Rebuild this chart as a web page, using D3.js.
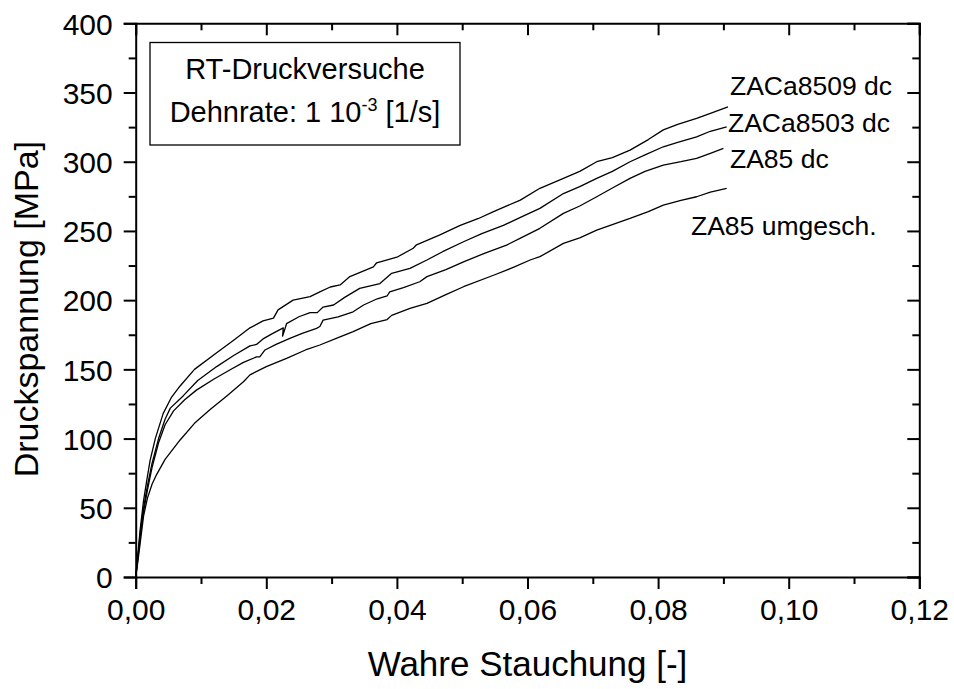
<!DOCTYPE html>
<html>
<head>
<meta charset="utf-8">
<script src="https://cdn.jsdelivr.net/npm/d3@7"></script>
<style>
  html, body { margin: 0; padding: 0; background: #fff; }
  svg { display: block; }
  text { font-family: "Liberation Sans", Arial, sans-serif; fill: #000; }
</style>
</head>
<body>
<svg id="chart" width="954" height="689"></svg>
<script>
// ---- data (strain [-], stress [MPa]) ----
const seriesNames = ["ZACa8509 dc", "ZACa8503 dc", "ZA85 dc", "ZA85 umgesch."];

const zaca8509 = [[0,0],[0.0003,15],[0.0007,35],[0.0012,55],[0.0017,70],[0.0022,84],[0.003,100],[0.0042,118],[0.0055,130],[0.0068,138],[0.009,150],[0.0124,162],[0.015,171],[0.0175,180],[0.0195,185],[0.0211,187],[0.0218,193],[0.0241,200],[0.0267,202.5],[0.0282,206],[0.0298,209.5],[0.0313,211],[0.0328,217],[0.0364,224],[0.0369,227],[0.04,231],[0.0425,237.5],[0.043,240],[0.0465,247],[0.0497,254],[0.0525,259],[0.0548,264],[0.0589,272.3],[0.0619,280.8],[0.0655,288],[0.068,293],[0.0706,300],[0.073,303],[0.0757,308.4],[0.0785,316],[0.0808,323],[0.083,327],[0.0859,331.3],[0.088,335],[0.0907,339.7]];

const zaca8503 = [[0,0],[0.0003,13],[0.0007,32],[0.0012,50],[0.0018,66],[0.0025,82],[0.0035,100],[0.0045,114],[0.0053,122],[0.0073,131],[0.0095,142],[0.0124,152],[0.015,160],[0.0175,167],[0.0185,168],[0.0195,172],[0.021,176],[0.0226,180],[0.0225,174],[0.0231,183],[0.025,188],[0.0267,191],[0.0278,191],[0.0287,195],[0.0303,196.5],[0.032,202],[0.0343,208.5],[0.0374,212],[0.0392,219.4],[0.042,223],[0.0446,229],[0.047,235],[0.0502,242.2],[0.053,248],[0.0563,254],[0.059,260],[0.0619,266.3],[0.0655,277],[0.068,282],[0.0706,288],[0.073,293],[0.0757,300],[0.078,305],[0.0808,310.8],[0.083,314],[0.0859,318],[0.088,322],[0.0905,325.2]];

const za85dc = [[0,0],[0.0003,12],[0.0007,30],[0.0012,47],[0.0018,63],[0.0025,79],[0.0035,97],[0.0045,110],[0.0058,120],[0.0075,128],[0.0093,135],[0.012,143],[0.0144,149.5],[0.0165,155],[0.0185,159],[0.019,159],[0.0198,164],[0.0215,168],[0.0236,172.4],[0.0255,176],[0.0277,179.6],[0.0282,181],[0.0287,185.6],[0.031,188],[0.0333,191.6],[0.0349,196.5],[0.037,201],[0.0385,203],[0.0389,206],[0.041,209],[0.0435,213.3],[0.0446,217],[0.0475,222],[0.0502,227.7],[0.0535,234],[0.0568,239.8],[0.059,245],[0.0619,251.9],[0.0655,262.7],[0.068,268],[0.0706,274.7],[0.073,281],[0.0757,288],[0.078,293],[0.0808,297.6],[0.0835,300],[0.0859,302.4],[0.088,306],[0.09,309.6]];

const za85umg = [[0,0],[0.0003,10],[0.0007,25],[0.0012,44],[0.0018,57],[0.0025,67],[0.0032,74],[0.0045,85],[0.0068,99],[0.009,111],[0.0114,121],[0.014,131],[0.0165,141],[0.0175,146],[0.02,152],[0.0231,158],[0.026,164],[0.0282,167.6],[0.031,173],[0.0333,177.2],[0.036,183],[0.0385,186],[0.0392,189],[0.042,194],[0.0446,197.7],[0.0475,204],[0.0502,209.7],[0.0548,218],[0.058,224],[0.0604,229],[0.0619,231.4],[0.0655,241],[0.068,245],[0.0706,250.6],[0.0757,259],[0.0785,264],[0.0808,268.7],[0.0835,272],[0.0859,274.7],[0.088,278],[0.0905,280.8]];

const xTicks = [0, 0.02, 0.04, 0.06, 0.08, 0.10, 0.12];
const xTickLabels = ["0,00","0,02","0,04","0,06","0,08","0,10","0,12"];
const yTicks = [0, 50, 100, 150, 200, 250, 300, 350, 400];

const xTitle = "Wahre Stauchung [-]";
const yTitle = "Druckspannung [MPa]";
const boxLine1 = "RT-Druckversuche";

// ---- layout ----
const svg = d3.select("#chart");
const L = 135.7, R = 919.3, T = 23.3, B = 577;
const x = d3.scaleLinear().domain([0, 0.12]).range([L, R]);
const y = d3.scaleLinear().domain([0, 400]).range([B, T]);

const xMinor = d3.range(0.01, 0.12, 0.02);
const yMinor = d3.range(25, 400, 50);

const g = svg.append("g");

// curves
const line = d3.line().x(d => x(d[0])).y(d => y(d[1]));
const allSeries = [zaca8509, zaca8503, za85dc, za85umg];
g.selectAll("path.curve").data(allSeries).enter().append("path")
  .attr("class", "curve")
  .attr("d", line)
  .attr("fill", "none")
  .attr("stroke", "#000")
  .attr("stroke-width", 1.3)
  .attr("stroke-linejoin", "round");

// axes
const fs = 30;
const bottomAxis = d3.axisBottom(x).tickValues(xTicks).tickFormat((d,i) => xTickLabels[i]).tickSizeOuter(0).tickSize(12).tickPadding(10);
const leftAxis = d3.axisLeft(y).tickValues(yTicks).tickSizeOuter(0).tickSize(12).tickPadding(11);
const topAxis = d3.axisBottom(x).tickValues(xTicks).tickFormat("").tickSizeOuter(0).tickSize(12);
const rightAxis = d3.axisLeft(y).tickValues(yTicks).tickFormat("").tickSizeOuter(0).tickSize(12);

function styleAxis(sel) {
  sel.selectAll("path.domain").attr("stroke", "#000").attr("stroke-width", 2);
  sel.selectAll(".tick line").attr("stroke", "#000").attr("stroke-width", 2);
  sel.selectAll(".tick text").style("font-family", '"Liberation Sans", Arial, sans-serif').style("font-size", fs + "px").attr("fill", "#000");
}

g.append("g").attr("transform", `translate(0,${B})`).call(bottomAxis).call(styleAxis);
const gl = g.append("g").attr("transform", `translate(${L},0)`).call(leftAxis).call(styleAxis);
g.append("g").attr("transform", `translate(0,${T})`).call(topAxis).call(styleAxis);
g.append("g").attr("transform", `translate(${R},0)`).call(rightAxis).call(styleAxis);
gl.selectAll(".tick text").attr("dy", "0.36em");

// minor ticks
const minorX = d3.axisBottom(x).tickValues(xMinor).tickFormat("").tickSizeOuter(0).tickSize(7);
const minorY = d3.axisLeft(y).tickValues(yMinor).tickFormat("").tickSizeOuter(0).tickSize(7);
const minorXt = d3.axisBottom(x).tickValues(xMinor).tickFormat("").tickSizeOuter(0).tickSize(7);
const minorYr = d3.axisLeft(y).tickValues(yMinor).tickFormat("").tickSizeOuter(0).tickSize(7);
[[minorX, `translate(0,${B})`], [minorY, `translate(${L},0)`], [minorXt, `translate(0,${T})`], [minorYr, `translate(${R},0)`]].forEach(([ax, tr]) => {
  const s = g.append("g").attr("transform", tr).call(ax).call(styleAxis);
  s.select("path.domain").remove();
});

// axis titles
svg.append("text").attr("x", (L + R) / 2).attr("y", 676).attr("text-anchor", "middle")
  .style("font-size", "35px").text(xTitle);
svg.append("text").attr("transform", `translate(38,${(T + B) / 2 + 9}) rotate(-90)`).attr("text-anchor", "middle")
  .style("font-size", "34px").text(yTitle);

// info box
svg.append("rect").attr("x", 150).attr("y", 42.5).attr("width", 310).attr("height", 102.5)
  .attr("fill", "#fff").attr("stroke", "#000").attr("stroke-width", 1.3);
svg.append("text").attr("x", 305).attr("y", 79).attr("text-anchor", "middle").style("font-size", "29px").text(boxLine1);
const t2 = svg.append("text").attr("x", 305).attr("y", 122).attr("text-anchor", "middle").style("font-size", "29px");
t2.append("tspan").text("Dehnrate: 1 10");
t2.append("tspan").attr("dy", -11).style("font-size", "18px").text("-3");
t2.append("tspan").attr("dy", 11).text(" [1/s]");

// curve labels
const labelPos = [[730, 95], [728, 132], [730, 168], [691, 235]];
svg.selectAll("text.clabel").data(seriesNames).enter().append("text")
  .attr("class", "clabel")
  .attr("x", (d, i) => labelPos[i][0]).attr("y", (d, i) => labelPos[i][1])
  .style("font-size", "26.5px").text(d => d);
</script>
</body>
</html>
